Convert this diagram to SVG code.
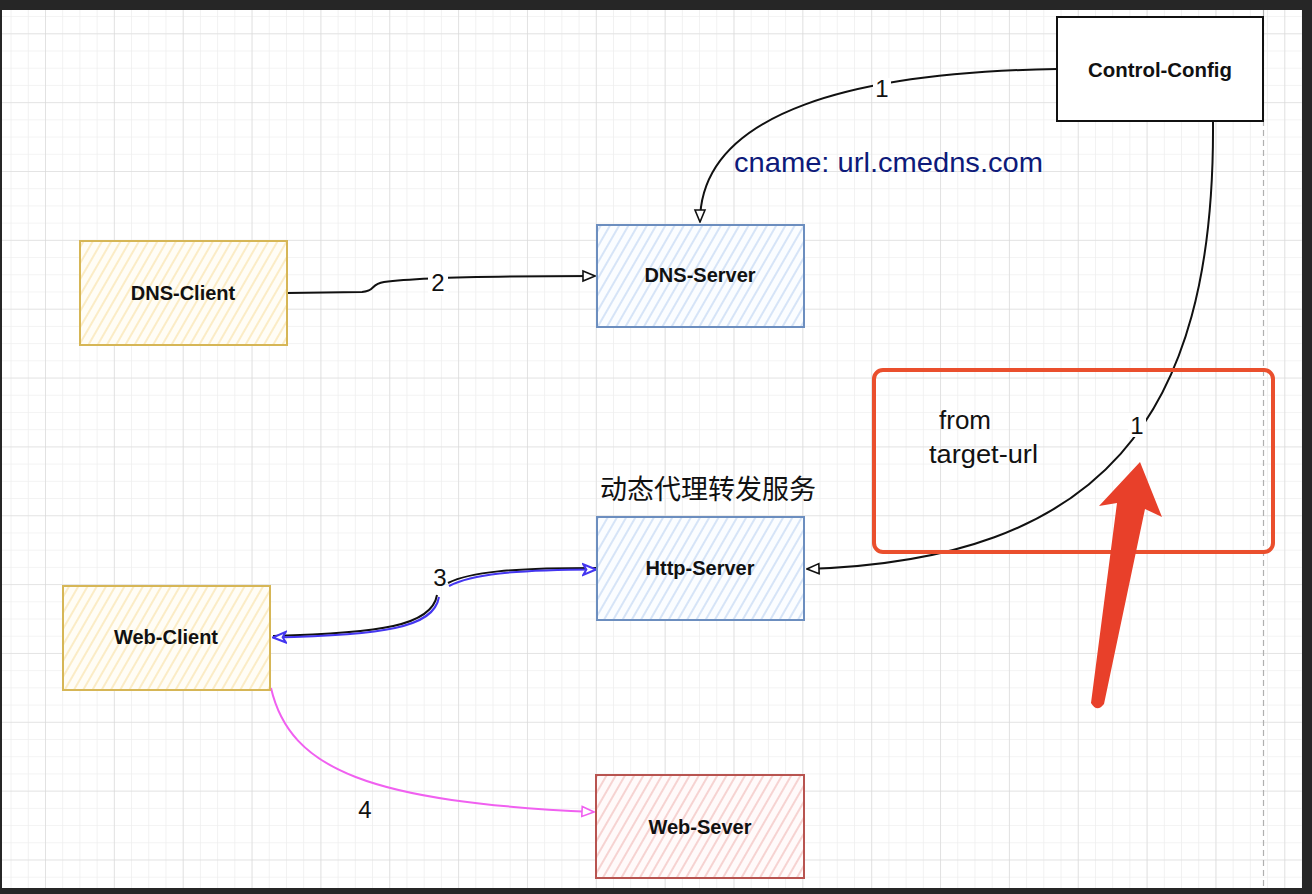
<svg xmlns="http://www.w3.org/2000/svg" width="1312" height="894" viewBox="0 0 1312 894">
<style>
.node rect{stroke-width:2}
.lbl{font-family:"Liberation Sans",Arial,sans-serif;font-weight:bold;font-size:20px;fill:#111;text-anchor:middle}
.num{font-family:"Liberation Sans",Arial,sans-serif;font-size:24px;fill:#111;text-anchor:middle}
.conn{fill:none;stroke-width:2}
</style>
<defs>
<pattern id="minor" patternUnits="userSpaceOnUse" x="45" y="33.3" width="17.2125" height="17.2125">
<path d="M0,0 V17.2125 M0,0 H17.2125" stroke="#efefef" stroke-width="1.6" fill="none"/>
</pattern>
<pattern id="major" patternUnits="userSpaceOnUse" x="45" y="33.3" width="68.85" height="68.85">
<path d="M0,0 V68.85 M0,0 H68.85" stroke="#d6d6d6" stroke-width="1.1" fill="none"/>
</pattern>
<pattern id="hBlue" patternUnits="userSpaceOnUse" width="8" height="8" patternTransform="rotate(30)">
<rect width="8" height="8" fill="#fbfdff"/>
<line x1="1" y1="0" x2="1" y2="8" stroke="#c2d7f3" stroke-width="1.3"/>
</pattern>
<pattern id="hYellow" patternUnits="userSpaceOnUse" width="8" height="8" patternTransform="rotate(30)">
<rect width="8" height="8" fill="#fffdf6"/>
<line x1="1" y1="0" x2="1" y2="8" stroke="#fae4ad" stroke-width="1.3"/>
</pattern>
<pattern id="hRed" patternUnits="userSpaceOnUse" width="8" height="8" patternTransform="rotate(30)">
<rect width="8" height="8" fill="#fffafa"/>
<line x1="1" y1="0" x2="1" y2="8" stroke="#f2bfbc" stroke-width="1.3"/>
</pattern>
<marker id="arrK" viewBox="0 0 14 14" refX="13" refY="7" markerWidth="14" markerHeight="14" markerUnits="userSpaceOnUse" orient="auto">
<path d="M1,2 L13,7 L1,12 Z" fill="#fff" stroke="#111" stroke-width="1.6"/>
</marker>
<marker id="arrB" viewBox="0 0 14 14" refX="13" refY="7" markerWidth="15" markerHeight="15" markerUnits="userSpaceOnUse" orient="auto">
<path d="M1,2 L13,7 L1,12 L4,7 Z" fill="#fff" stroke="#4436f0" stroke-width="1.9"/>
</marker>
<marker id="arrM" viewBox="0 0 14 14" refX="13" refY="7" markerWidth="14" markerHeight="14" markerUnits="userSpaceOnUse" orient="auto">
<path d="M1,2 L13,7 L1,12 Z" fill="#fff" stroke="#f060f0" stroke-width="1.6"/>
</marker>
</defs>

<!-- background and frame -->
<rect x="0" y="0" width="1312" height="894" fill="#ffffff"/>
<rect x="0" y="0" width="1312" height="894" fill="url(#minor)"/>
<rect x="0" y="0" width="1312" height="894" fill="url(#major)"/>
<line x1="1263.5" y1="10" x2="1263.5" y2="888" stroke="#b0b0b0" stroke-width="1.2" stroke-dasharray="6,4"/>

<!-- connectors -->
<g id="connectors">
<path class="conn" d="M1057,69 C860,72 700,110 700,222" stroke="#111" marker-end="url(#arrK)"/>
<path class="conn" d="M287,293 L362,292 C376,291 370,284 384,282 C420,277 500,276 595,276" stroke="#111" marker-end="url(#arrK)"/>
<path class="conn" d="M1213,122 C1215,420 1100,560 807,569" stroke="#111" marker-end="url(#arrK)"/>
<path class="conn" d="M271,688 C290,770 370,802 594,812" stroke="#f060f0" marker-end="url(#arrM)"/>
<!-- 3: doubled sketch lines -->
<path class="conn" d="M448,583 C470,572 510,568 596,568" stroke="#111" stroke-width="1.8"/>
<path class="conn" d="M449,586 C472,574 512,570 596,569.5" stroke="#4436f0" stroke-width="2" marker-end="url(#arrB)"/>
<path class="conn" d="M437,595 C432,626 380,633 273,636" stroke="#111" stroke-width="1.8"/>
<path class="conn" d="M439,597 C434,628 382,635 273,637.5" stroke="#4436f0" stroke-width="2" marker-end="url(#arrB)"/>
<!-- labels -->
<rect x="873" y="78" width="18" height="22" fill="#fff"/>
<text class="num" x="882" y="97">1</text>
<rect x="428" y="271" width="20" height="24" fill="#fff"/>
<text class="num" x="438" y="291">2</text>
<text class="num" x="440" y="586">3</text>
<rect x="1128" y="413" width="18" height="24" fill="#fff"/>
<text class="num" x="1137" y="434">1</text>
<text class="num" x="365" y="818">4</text>
</g>

<!-- nodes -->
<g id="control-config" class="node">
<rect x="1057" y="17" width="206" height="104" fill="#ffffff" stroke="#111"/>
<text class="lbl" x="1160" y="77" textLength="144" lengthAdjust="spacingAndGlyphs">Control-Config</text>
</g>
<g id="dns-server" class="node">
<rect x="597" y="225" width="207" height="102" fill="url(#hBlue)" stroke="#6c8ebf"/>
<text class="lbl" x="700" y="282">DNS-Server</text>
</g>
<g id="dns-client" class="node">
<rect x="80" y="241" width="207" height="104" fill="url(#hYellow)" stroke="#d6b656"/>
<text class="lbl" x="183" y="300">DNS-Client</text>
</g>
<g id="http-server" class="node">
<rect x="597" y="517" width="207" height="103" fill="url(#hBlue)" stroke="#6c8ebf"/>
<text class="lbl" x="700" y="575">Http-Server</text>
</g>
<g id="web-client" class="node">
<rect x="63" y="586" width="207" height="104" fill="url(#hYellow)" stroke="#d6b656"/>
<text class="lbl" x="166" y="644">Web-Client</text>
</g>
<g id="web-sever" class="node">
<rect x="596" y="775" width="208" height="103" fill="url(#hRed)" stroke="#b85450"/>
<text class="lbl" x="700" y="834">Web-Sever</text>
</g>

<!-- free texts -->
<text x="734" y="172" font-family="'Liberation Sans',Arial,sans-serif" font-size="28" fill="#0d1a7a" textLength="309" lengthAdjust="spacingAndGlyphs">cname: url.cmedns.com</text>
<text x="708" y="499" font-family="'Noto Sans CJK SC','Noto Sans',sans-serif" font-size="27" fill="#111" text-anchor="middle">动态代理转发服务</text>

<!-- annotation -->
<g id="annotation">
<rect x="874" y="370" width="399" height="182" rx="9" fill="none" stroke="#ea4f2d" stroke-width="4"/>
<text x="939" y="429" font-family="'Liberation Sans',Arial,sans-serif" font-size="26" fill="#111">from</text>
<text x="929" y="463" font-family="'Liberation Sans',Arial,sans-serif" font-size="26" fill="#111" textLength="109" lengthAdjust="spacingAndGlyphs">target-url</text>
<path d="M1140,462 L1162,517 L1145,509 L1104,704 Q1097,713 1091,703 L1117,503 L1099,506 Z" fill="#e8402a"/>
</g>

<!-- frame -->
<rect x="0" y="0" width="1312" height="10" fill="#262626"/>
<rect x="0" y="0" width="2" height="894" fill="#262626"/>
<rect x="1302" y="0" width="10" height="894" fill="#262626"/>
<rect x="0" y="888" width="1312" height="6" fill="#262626"/>
</svg>
